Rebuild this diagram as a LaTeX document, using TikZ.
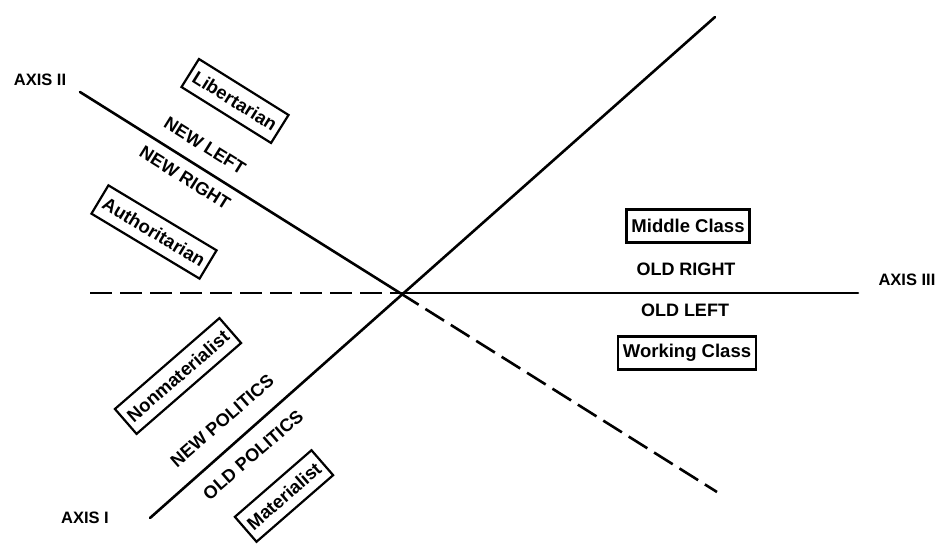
\documentclass[tikz,border=0pt]{standalone}
\usepackage{fontspec}
\setmainfont{Liberation Sans}
\begin{document}
\begin{tikzpicture}[x=1pt,y=-1pt,
  axisline/.style={line width=2.6pt,line cap=round},
  dashaxis/.style={line width=2.6pt,dash pattern=on 22pt off 8pt},
  tag/.style={font=\fontsize{18}{21}\selectfont\bfseries},
  boxtag/.style={draw,line width=2.2pt,inner xsep=5pt,minimum height=33pt,font=\fontsize{18.5}{21}\selectfont\bfseries},
  axistag/.style={font=\fontsize{16.5}{19}\selectfont\bfseries}]
 \useasboundingbox (0,0) rectangle (936,546);
 % axes
 \coordinate (o) at (400,293);
 \coordinate (i1) at (150,518);
 \coordinate (i2) at (715,17);
 \coordinate (ii1) at (80,92);
 \coordinate (ii2) at (717,492);
 \coordinate (iii1) at (90,293);
 \coordinate (iii2) at (858,293);
 \draw[axisline] (i1)--(i2);
 \draw[axisline] (ii1)--(o);
 \draw[dashaxis] (o)--(ii2);
 \draw[dashaxis] (iii1)--(o);
 \draw[axisline] (o)--(iii2);
 \node[axistag] (axisii) at (40,80) {AXIS II};
 \node[axistag] (axisi) at (85,518) {AXIS I};
 \node[axistag,anchor=west] (axisiii) at (875,280) {AXIS III};
 % axis II
 \node[boxtag,rotate=-32] (libert) at (235,101) {Libertarian};
 \node[tag,rotate=-32] (newleft) at (205,146) {NEW LEFT};
 \node[tag,rotate=-32] (newright) at (185,178) {NEW RIGHT};
 \node[boxtag,rotate=-31] (author) at (154,232) {Authoritarian};
 % axis I
 \node[boxtag,rotate=41] (nonmat) at (178,376) {Nonmaterialist};
 \node[tag,rotate=41] (newpol) at (222,421) {NEW POLITICS};
 \node[tag,rotate=41] (oldpol) at (253,455) {OLD POLITICS};
 \node[boxtag,rotate=41] (mat) at (284,496) {Materialist};
 % axis III
 \node[boxtag] (middle) at (688,226) {Middle Class};
 \node[tag] (oldright) at (686,269) {OLD RIGHT};
 \node[tag] (oldleft) at (685,310) {OLD LEFT};
 \node[boxtag] (working) at (687,353) {Working Class};
\end{tikzpicture}
\end{document}
